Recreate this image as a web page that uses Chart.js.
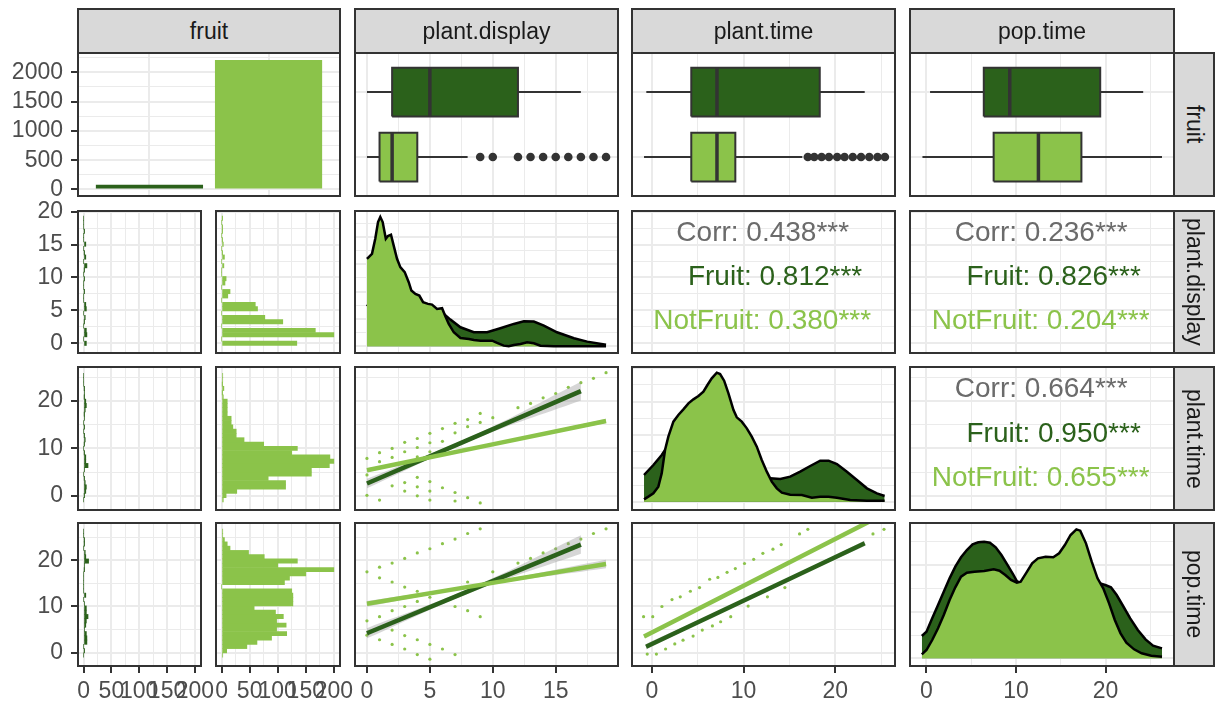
<!DOCTYPE html>
<html>
<head>
<meta charset="utf-8">
<script src="https://cdn.jsdelivr.net/npm/chart.js@4.4.1/dist/chart.umd.min.js"></script>
<style>
  body { margin: 0; width: 1220px; height: 707px; position: relative; overflow: hidden; background: #fff;
         font-family: "Liberation Sans", Arial, sans-serif; }
  canvas { position: absolute; }
  .strip { position: absolute; box-sizing: border-box; background: #d9d9d9; border: 2px solid #333;
           display: flex; align-items: center; justify-content: center; font-size: 23px; color: #1a1a1a; }
  .strip.right span { writing-mode: vertical-rl; white-space: nowrap; }
</style>
</head>
<body>
<script>
// ---- data ----
var vars = ['fruit', 'plant.display', 'plant.time', 'pop.time'];
var groups = ['Fruit', 'NotFruit'];
var groupCounts = [80, 2210];

// boxplots: [lower whisker, Q1, median, Q3, upper whisker]
var boxDisplayFruit = [0, 2, 5, 12, 17];
var boxDisplayNotFruit = [0, 1, 2, 4, 8];
var outDisplayNotFruit = [9, 10, 12, 13, 14, 15, 16, 17, 18, 19];
var boxPlantFruit = [-0.6, 4.3, 7.1, 18.3, 23.2];
var boxPlantNotFruit = [-0.85, 4.3, 7.1, 9.1, 16.4];
var outPlantNotFruit = [17, 17.7, 18.5, 19.3, 20.2, 21, 21.9, 22.8, 23.7, 24.6, 25.4];
var boxPopFruit = [0.4, 6.4, 9.3, 19.4, 24.2];
var boxPopNotFruit = [-0.45, 7.5, 12.5, 17.3, 26.3];

// histograms, 30 bins each: first bin centre and bin width
var displayBinStart = 0, displayBinWidth = 0.655;
var plantBinStart = -0.85, plantBinWidth = 0.905;
var popBinStart = -0.5, popBinWidth = 0.924;
var histDisplayFruit = [5,0,6,5,0,1,3,0,5,4,0,0,1,0,0,1,0,1,6,0,4,1,0,4,0,0,1,0,0,0];
var histDisplayNotFruit = [134,0,200,167,0,109,77,0,64,60,0,11,15,0,6,8,0,0,4,0,5,1,0,3,1,0,1,1,0,1];
var histPlantFruit = [0,1,4,5,3,1,0,2,8,4,4,1,0,1,3,1,0,1,0,2,1,3,5,4,1,2,1,0,0,0];
var histPlantNotFruit = [3,8,27,114,114,83,160,160,192,200,193,125,135,75,40,26,26,20,17,17,10,10,10,10,3,1,4,1,2,2];
var histPopFruit = [0,1,0,6,6,5,2,4,5,8,5,5,2,0,4,0,0,0,0,0,1,2,9,4,3,0,1,1,0,0];
var histPopNotFruit = [2,9,45,63,89,116,98,115,98,110,96,58,127,127,127,125,0,112,121,150,200,100,135,76,48,15,10,5,2,2];

// densities (relative heights)
var densDisplayNotFruitX = [0,0.4,0.66,0.88,1.06,1.25,1.5,1.67,1.91,2.12,2.39,2.65,3.0,3.32,3.53,3.85,4.16,4.46,4.85,5.17,5.57,5.97,6.23,6.5,6.9,7.43,8.1,8.5,9.03,9.55,9.95,10.34,10.87,11.27,11.67,12.2,12.73,13.26,13.79,14.85,16.4,19];
var densDisplayNotFruitY = [262,277,322,372,387,372,322,330,334,302,262,237,222,192,167,157,152,132,127,125,112,114,90,67,42,25,22,19,17,17,17,10,2,0,4,7,12,9,2,0,0,0];
var densDisplayFruitX = [0,1,2,3,4,5,6.1,6.63,7.43,8.49,9.55,10.6,11.67,12.47,13.26,14.06,15.1,16.45,17.5,19];
var densDisplayFruitY = [120,165,175,160,140,115,97,80,57,42,42,54,67,75,74,62,42,24,14,5];
var densPlantNotFruitX = [-0.85,-0.38,0.17,0.71,1.08,1.44,1.8,2.35,2.89,3.44,3.99,4.53,5.08,5.62,6.06,6.53,7.08,7.44,7.88,8.35,8.9,9.26,9.8,10.35,10.89,11.44,11.98,12.53,13.07,13.62,14.17,15.08,16.35,17.44,18.35,19.26,20.17,21.62,23.44,25.37];
var densPlantNotFruitY = [7,15,25,45,85,155,195,240,260,277,295,307,317,330,350,370,387,383,363,325,275,253,240,220,195,165,125,90,60,40,27,21,20,12,15,15,12,5,3,3];
var densPlantFruitX = [-0.85,0.17,1.08,1.44,2.5,4,6,8,10,11.5,12.9,14.0,15.08,16.17,17.26,18.35,19.26,20.17,21.26,22.35,23.44,24.53,25.37];
var densPlantFruitY = [80,110,140,155,165,175,170,150,115,88,70,68,75,90,107,123,123,113,90,65,40,25,17];
var densPopNotFruitX = [-0.52,0,0.64,1.29,1.93,2.58,3.22,3.86,4.51,5.36,6.44,7.51,8.15,8.8,9.44,10.09,10.52,11.16,11.8,12.45,13.3,14.16,14.81,15.45,16.09,16.74,17.17,17.81,18.45,19.1,19.74,20.39,21.03,21.67,22.32,23.18,24.03,25.1,26.3];
var densPopNotFruitY = [12,25,55,90,130,175,213,245,257,260,262,267,263,250,235,227,230,257,285,300,305,303,315,340,370,387,383,345,290,240,210,165,115,75,47,27,15,8,5];
var densPopFruitX = [-0.52,0,0.64,1.29,1.93,2.58,3.22,3.86,4.51,5.15,5.79,6.44,7.08,7.73,8.37,9.01,9.66,10.09,10.52,11,13,15,17,19,19.96,20.6,21.24,21.89,22.75,23.6,24.46,25.3,26.3];
var densPopFruitY = [67,80,120,160,200,240,275,303,325,342,348,350,347,333,310,282,253,232,225,235,245,250,245,228,220,213,190,160,120,85,57,38,30];

// scatter points
var ptDisplayVsPlantX = [0,0,0,1,1,1,2,2,2,3,3,3,3,3,4,4,4,4,4,4,5,5,5,5,5,5,6,6,6,7,7,7,7,8,8,8,9,9,9,10,12,13,14,15,16,17,18,19];
var ptDisplayVsPlantY = [7.9,4.4,0.1,9.1,7.2,-0.9,10,8.1,2.1,11.3,9.3,6.8,2.8,1,12.1,10.2,8.2,3.9,1.9,0,13.2,11.2,9.3,3,1,-0.9,14.2,11.5,1.7,15.3,13.3,0.7,-1.1,16.1,14.6,-0.4,17.4,15.5,-1.5,16.5,18.6,19.5,20.7,21.6,22.9,23.9,24.8,26];
var ptDisplayVsPopX = [0,0,0,1,1,1,1,2,2,2,2,2,3,3,3,3,3,4,4,4,4,4,5,5,5,5,6,6,7,7,7,8,8,8,9,9,10,12,13,14,15,16,17,18,19];
var ptDisplayVsPopY = [17.5,6.9,3.8,18.5,16.2,7.8,2.8,19.4,15.3,9.1,4.9,1.8,20.4,14.2,10,3.7,0.8,21.6,13.3,11.1,2.8,-0.4,22.5,12,1.8,-1.4,23.6,0.8,24.6,10,-0.4,25.8,15.3,9.1,26.8,7.8,17.5,19.4,20.4,21.6,22.5,23.6,24.6,25.8,26.8];
var ptPlantVsPopX = [-0.9,0.1,1.1,2.2,3.1,4.2,5.2,6.3,7.2,8.2,9.1,10.1,11.1,12.1,13.2,14.1,16.1,17.0,24.1,25.3,-0.5,0.5,1.5,2.5,3.4,4.5,5.5,6.6,7.5,8.6,10.5,12.6,14.5];
var ptPlantVsPopY = [7.8,7.8,10.0,11.5,12.1,13.3,14.1,15.9,16.3,17.4,18.2,19.3,20.2,21.5,22.4,23.4,25.7,26.7,25.7,26.7,-0.3,-0.3,0.8,1.9,2.7,3.6,4.9,5.8,6.7,7.8,10.1,12.1,14.1];

// linear fits: x at start/middle/end, fitted y, half width of the band
var fitDisplayPlantFruitX = [0, 8.5, 17], fitDisplayPlantFruitY = [2.6, 12.35, 22.1], fitDisplayPlantFruitSe = [1.0, 0.45, 2.0];
var fitDisplayPlantNotX = [0, 9.5, 19], fitDisplayPlantNotY = [5.4, 10.6, 15.8], fitDisplayPlantNotSe = [0.4, 0.15, 0.45];
var fitDisplayPopFruitX = [0, 8.5, 17], fitDisplayPopFruitY = [4.2, 13.8, 23.4], fitDisplayPopFruitSe = [1.1, 0.5, 2.0];
var fitDisplayPopNotX = [0, 9.5, 19], fitDisplayPopNotY = [10.6, 14.9, 19.2], fitDisplayPopNotSe = [0.6, 0.25, 0.9];
var fitPlantPopFruitX = [-0.63, 11.3, 23.2], fitPlantPopFruitY = [1.3, 12.5, 23.7], fitPlantPopFruitSe = [0.6, 0.25, 0.6];
var fitPlantPopNotX = [-0.85, 12.3, 25.4], fitPlantPopNotY = [3.5, 16.8, 30.1], fitPlantPopNotSe = [0.3, 0.1, 0.4];

// correlations: [display~plant, display~pop, plant~pop]
var corrAll = [0.438, 0.236, 0.664];
var corrFruit = [0.812, 0.826, 0.950];
var corrNotFruit = [0.380, 0.204, 0.655];

// axis ranges and tick labels
var axDisplayX = { min: -0.95, max: 19.95, major: [0, 5, 10, 15], minor: [2.5, 7.5, 12.5, 17.5] };
var axDisplayY = { min: -1.47, max: 20.1, major: [0, 5, 10, 15, 20], minor: [2.5, 7.5, 12.5, 17.5] };
var axPlantX = { min: -2.16, max: 26.5, major: [0, 10, 20], minor: [5, 15, 25] };
var axPlantY = { min: -3.0, max: 27.2, major: [0, 10, 20], minor: [5, 15, 25] };
var axPopX = { min: -1.84, max: 27.64, major: [0, 10, 20], minor: [5, 15, 25] };
var axPopY = { min: -2.88, max: 28.07, major: [0, 10, 20], minor: [5, 15, 25] };
var axCount = { min: -10, max: 211, major: [0, 50, 100, 150, 200], minor: [25, 75, 125, 175] };
var axGroupN = { min: -112, max: 2330, major: [0, 500, 1000, 1500, 2000], minor: [250, 750, 1250, 1750, 2250] };
var axGroup = { min: 0.4, max: 2.6, major: [1, 2], minor: [] };
var axDensDisplay = { min: -20, max: 405, major: [0, 82, 164, 246, 328], minor: [41, 123, 205, 287, 369] };
var axDensPlant = { min: -25, max: 404, major: [0, 100, 200, 300, 400], minor: [50, 150, 250, 350] };
var axDensPop = { min: -23, max: 406, major: [0, 140, 280], minor: [70, 210, 350] };

// ---- look ----
var FONT = '"Liberation Sans", Arial, sans-serif';
var DARK = '#2b611b', LIGHT = '#8bc34a', GRID = '#ebebeb';
var colX = { c1: [78, 340], c1a: [78, 201], c1b: [216, 340], c2: [355, 618], c3: [632, 895], c4: [910, 1174] };
var rowY = { r1: [53, 196], r2: [211, 353], r3: [367, 510], r4: [523, 666] };

Chart.defaults.font.family = FONT;

Chart.register({
  id: 'panelBorder',
  afterDraw: function (chart) {
    var a = chart.chartArea, ctx = chart.ctx;
    ctx.save();
    ctx.strokeStyle = '#333333';
    ctx.lineWidth = 2;
    ctx.strokeRect(a.left, a.top, a.right - a.left, a.bottom - a.top);
    ctx.restore();
  }
});

Chart.register({
  id: 'corrText',
  afterDatasetsDraw: function (chart, args, opts) {
    if (!opts || !opts.lines) return;
    var a = chart.chartArea, ctx = chart.ctx;
    ctx.save();
    ctx.font = '28px ' + FONT;
    ctx.textAlign = 'center';
    ctx.textBaseline = 'middle';
    opts.lines.forEach(function (l) {
      ctx.fillStyle = l.color;
      ctx.fillText(l.text, a.left + l.fx * (a.right - a.left), a.top + l.fy * (a.bottom - a.top));
    });
    ctx.restore();
  }
});

function axis(ax, pos, show, size) {
  var all = ax.major.concat(ax.minor).filter(function (v) { return v >= ax.min && v <= ax.max; })
    .sort(function (a, b) { return a - b; });
  var isMajor = function (v) { return ax.major.indexOf(v) >= 0; };
  var horiz = pos === 'bottom';
  return {
    type: 'linear', position: pos, min: ax.min, max: ax.max, offset: false,
    afterBuildTicks: function (s) { s.ticks = all.map(function (v) { return { value: v }; }); },
    afterFit: function (s) {
      if (horiz) { s.height = show ? size : 0; s.paddingLeft = 0; s.paddingRight = 0; }
      else { s.width = show ? size : 0; s.paddingTop = 0; s.paddingBottom = 0; }
    },
    border: { display: false },
    grid: {
      offset: false, drawTicks: show, tickLength: 7, tickWidth: 2, color: GRID,
      lineWidth: function (c) { return c.tick && isMajor(c.tick.value) ? 2 : 1; },
      tickColor: function (c) { return c.tick && isMajor(c.tick.value) ? '#333333' : 'rgba(0,0,0,0)'; }
    },
    ticks: {
      display: show, autoSkip: false, maxRotation: 0, minRotation: 0,
      padding: horiz ? 5 : 8, color: '#4d4d4d', font: { size: 23 },
      callback: function (v) { return isMajor(v) ? String(v) : ''; }
    }
  };
}

function panel(col, row, cfg) {
  var showX = !!cfg.showX, showY = !!cfg.showY;
  var ML = showY ? col[0] : 4, MR = showX ? 24 : 4, MT = showY ? 14 : 4, MB = showX ? 707 - row[1] : 4;
  var w = col[1] - col[0] + ML + MR, h = row[1] - row[0] + MT + MB;
  var cv = document.createElement('canvas');
  cv.width = w; cv.height = h;
  cv.style.left = (col[0] - ML) + 'px';
  cv.style.top = (row[0] - MT) + 'px';
  cv.style.width = w + 'px';
  cv.style.height = h + 'px';
  document.body.appendChild(cv);
  var ds = cfg.datasets;
  ds.forEach(function (d, i) { d.order = ds.length - i; });
  return new Chart(cv, {
    type: cfg.type || 'line',
    data: { datasets: ds },
    options: {
      responsive: false, animation: false, devicePixelRatio: 1, events: [],
      indexAxis: cfg.indexAxis || 'x',
      layout: { autoPadding: false, padding: { left: showY ? 0 : ML, right: MR, top: MT, bottom: showX ? 0 : MB } },
      plugins: { legend: { display: false }, tooltip: { enabled: false }, corrText: cfg.text ? { lines: cfg.text } : {} },
      scales: { x: axis(cfg.x, 'bottom', showX, MB), y: axis(cfg.y, 'left', showY, ML) }
    }
  });
}

function strip(x, y, w, h, text, right) {
  var d = document.createElement('div');
  d.className = 'strip' + (right ? ' right' : '');
  d.style.left = x + 'px'; d.style.top = y + 'px';
  d.style.width = w + 'px'; d.style.height = h + 'px';
  var s = document.createElement('span');
  s.textContent = text;
  d.appendChild(s);
  document.body.appendChild(d);
}

function pts(xs, ys) { return xs.map(function (x, i) { return { x: x, y: ys[i] }; }); }

function line(data, color, width) {
  return { data: data, borderColor: color, borderWidth: width, pointRadius: 0, fill: false };
}

function boxSets(stats, c, color, outliers) {
  var b = c - 0.375, t = c + 0.375;
  var sets = [
    line([{ x: stats[0], y: c }, { x: stats[1], y: c }], '#333333', 2),
    line([{ x: stats[3], y: c }, { x: stats[4], y: c }], '#333333', 2),
    { data: [{ x: stats[1], y: b }, { x: stats[1], y: t }, { x: stats[3], y: t }, { x: stats[3], y: b }],
      borderWidth: 0, borderColor: 'rgba(0,0,0,0)', backgroundColor: color, fill: { target: { value: b } }, pointRadius: 0 },
    line([{ x: stats[1], y: b }, { x: stats[1], y: t }, { x: stats[3], y: t }, { x: stats[3], y: b }, { x: stats[1], y: b }], '#333333', 2),
    line([{ x: stats[2], y: b }, { x: stats[2], y: t }], '#333333', 3.5)
  ];
  if (outliers) {
    sets.push({ data: outliers.map(function (v) { return { x: v, y: c }; }), showLine: false,
      pointRadius: 4.3, pointBackgroundColor: '#333333', pointBorderWidth: 0 });
  }
  return sets;
}

function densSet(xs, ys, color) {
  return { data: pts(xs, ys), borderColor: '#000000', borderWidth: 2.5, backgroundColor: color,
    fill: { target: { value: 0 } }, pointRadius: 0 };
}

function histSet(start, width, counts, color) {
  return { data: counts.map(function (n, i) { return { x: n, y: start + i * width }; }),
    backgroundColor: color, borderWidth: 0, barPercentage: 1, categoryPercentage: 1 };
}

function fitSets(xs, ys, se, color) {
  var up = xs.map(function (x, i) { return { x: x, y: ys[i] + se[i] }; });
  var lo = xs.map(function (x, i) { return { x: x, y: ys[i] - se[i] }; });
  return [
    { data: up, borderWidth: 0, borderColor: 'rgba(0,0,0,0)', backgroundColor: 'rgba(153,153,153,0.4)',
      fill: '+1', pointRadius: 0, tension: 0.4 },
    { data: lo, borderWidth: 0, borderColor: 'rgba(0,0,0,0)', pointRadius: 0, fill: false, tension: 0.4 },
    line(pts(xs, ys), color, 4.5)
  ];
}

function scatterSets(px, py, fits) {
  var sets = [{ data: pts(px, py), showLine: false, pointRadius: 1.6, pointBackgroundColor: LIGHT, pointBorderWidth: 0 }];
  fits.forEach(function (f) { sets = sets.concat(f); });
  return sets;
}

function corrLines(i) {
  return [
    { text: 'Corr: ' + corrAll[i].toFixed(3) + '***', color: '#6b6b6b', fx: 0.497, fy: 0.155 },
    { text: 'Fruit: ' + corrFruit[i].toFixed(3) + '***', color: DARK, fx: 0.544, fy: 0.47 },
    { text: 'NotFruit: ' + corrNotFruit[i].toFixed(3) + '***', color: LIGHT, fx: 0.495, fy: 0.775 }
  ];
}

// ---- row 1 ----
panel(colX.c1, rowY.r1, {
  type: 'bar', x: axGroup, y: axGroupN, showY: true,
  datasets: [{ data: groupCounts.map(function (n, i) { return { x: i + 1, y: n }; }),
    backgroundColor: [DARK, LIGHT], borderWidth: 0, barPercentage: 0.9, categoryPercentage: 1 }]
});
panel(colX.c2, rowY.r1, { x: axDisplayX, y: axGroup,
  datasets: boxSets(boxDisplayFruit, 2, DARK).concat(boxSets(boxDisplayNotFruit, 1, LIGHT, outDisplayNotFruit)) });
panel(colX.c3, rowY.r1, { x: axPlantX, y: axGroup,
  datasets: boxSets(boxPlantFruit, 2, DARK).concat(boxSets(boxPlantNotFruit, 1, LIGHT, outPlantNotFruit)) });
panel(colX.c4, rowY.r1, { x: axPopX, y: axGroup,
  datasets: boxSets(boxPopFruit, 2, DARK).concat(boxSets(boxPopNotFruit, 1, LIGHT)) });

// ---- column 1 histograms ----
[[rowY.r2, axDisplayY, displayBinStart, displayBinWidth, histDisplayFruit, histDisplayNotFruit],
 [rowY.r3, axPlantY, plantBinStart, plantBinWidth, histPlantFruit, histPlantNotFruit],
 [rowY.r4, axPopY, popBinStart, popBinWidth, histPopFruit, histPopNotFruit]].forEach(function (r, k) {
  panel(colX.c1a, r[0], { type: 'bar', indexAxis: 'y', x: axCount, y: r[1], showY: true, showX: k === 2,
    datasets: [histSet(r[2], r[3], r[4], DARK)] });
  panel(colX.c1b, r[0], { type: 'bar', indexAxis: 'y', x: axCount, y: r[1], showX: k === 2,
    datasets: [histSet(r[2], r[3], r[5], LIGHT)] });
});

// ---- diagonal densities ----
panel(colX.c2, rowY.r2, { x: axDisplayX, y: axDensDisplay,
  datasets: [densSet(densDisplayFruitX, densDisplayFruitY, DARK), densSet(densDisplayNotFruitX, densDisplayNotFruitY, LIGHT)] });
panel(colX.c3, rowY.r3, { x: axPlantX, y: axDensPlant,
  datasets: [densSet(densPlantFruitX, densPlantFruitY, DARK), densSet(densPlantNotFruitX, densPlantNotFruitY, LIGHT)] });
panel(colX.c4, rowY.r4, { x: axPopX, y: axDensPop, showX: true,
  datasets: [densSet(densPopFruitX, densPopFruitY, DARK), densSet(densPopNotFruitX, densPopNotFruitY, LIGHT)] });

// ---- correlations ----
panel(colX.c3, rowY.r2, { x: axPlantX, y: axDisplayY, datasets: [{ data: [] }], text: corrLines(0) });
panel(colX.c4, rowY.r2, { x: axPopX, y: axDisplayY, datasets: [{ data: [] }], text: corrLines(1) });
panel(colX.c4, rowY.r3, { x: axPopX, y: axPlantY, datasets: [{ data: [] }], text: corrLines(2) });

// ---- scatter + fits ----
panel(colX.c2, rowY.r3, { x: axDisplayX, y: axPlantY,
  datasets: scatterSets(ptDisplayVsPlantX, ptDisplayVsPlantY, [
    fitSets(fitDisplayPlantFruitX, fitDisplayPlantFruitY, fitDisplayPlantFruitSe, DARK),
    fitSets(fitDisplayPlantNotX, fitDisplayPlantNotY, fitDisplayPlantNotSe, LIGHT)]) });
panel(colX.c2, rowY.r4, { x: axDisplayX, y: axPopY, showX: true,
  datasets: scatterSets(ptDisplayVsPopX, ptDisplayVsPopY, [
    fitSets(fitDisplayPopFruitX, fitDisplayPopFruitY, fitDisplayPopFruitSe, DARK),
    fitSets(fitDisplayPopNotX, fitDisplayPopNotY, fitDisplayPopNotSe, LIGHT)]) });
panel(colX.c3, rowY.r4, { x: axPlantX, y: axPopY, showX: true,
  datasets: scatterSets(ptPlantVsPopX, ptPlantVsPopY, [
    fitSets(fitPlantPopFruitX, fitPlantPopFruitY, fitPlantPopFruitSe, DARK),
    fitSets(fitPlantPopNotX, fitPlantPopNotY, fitPlantPopNotSe, LIGHT)]) });

// ---- strips ----
[colX.c1, colX.c2, colX.c3, colX.c4].forEach(function (c, i) {
  strip(c[0] - 1, 8, c[1] - c[0] + 2, 53 + 1 - 8, vars[i]);
});
[rowY.r1, rowY.r2, rowY.r3, rowY.r4].forEach(function (r, i) {
  strip(1173, r[0] - 1, 1215 - 1173, r[1] - r[0] + 2, vars[i], true);
});
</script>
</body>
</html>
